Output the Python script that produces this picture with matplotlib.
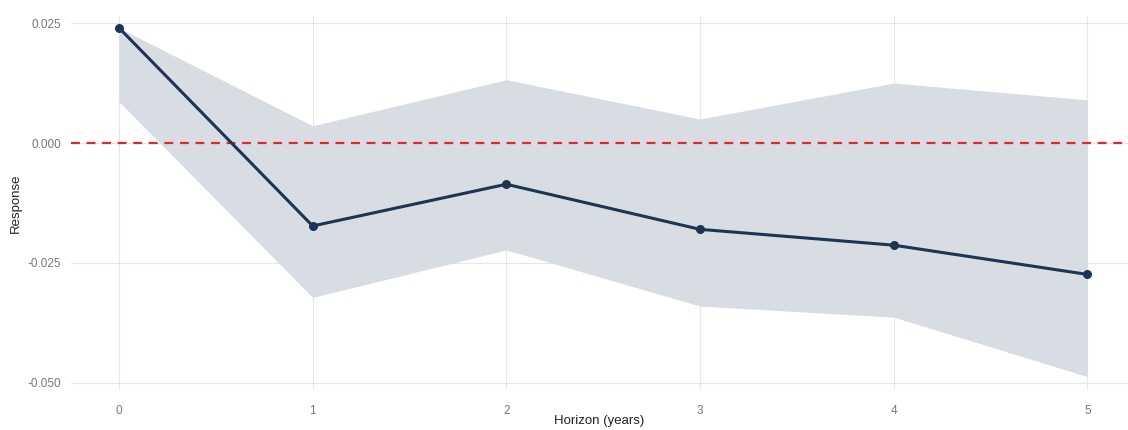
import matplotlib
matplotlib.use("Agg")
import matplotlib.pyplot as plt

horizon = [0, 1, 2, 3, 4, 5]
response = [0.0240, -0.0173, -0.0086, -0.0180, -0.0213, -0.0274]
upper = [0.0240, 0.0036, 0.0132, 0.0050, 0.0125, 0.0090]
lower = [0.0086, -0.0322, -0.0223, -0.0340, -0.0363, -0.0487]
yticks = [0.025, 0.000, -0.025, -0.050]
ytick_labels = ["0.025", "0.000", "-0.025", "-0.050"]

plt.rcParams['font.family'] = ['Liberation Sans', 'DejaVu Sans']
fig = plt.figure(figsize=(11.28, 4.30), dpi=100)
ax = fig.add_axes([0.0626, 0.093, 0.9374, 0.870])

ax.fill_between(horizon, lower, upper, color="#d8dde3", linewidth=0, zorder=1)
ax.axhline(0, color="#e3262a", linestyle=(0, (4, 3)), linewidth=1.6, zorder=2)
ax.plot(horizon, response, color="#1c3553", linewidth=2.2, zorder=3)
ax.scatter(horizon, response, color="#1c3553", s=30, zorder=4)

ax.set_xlim(-0.25, 5.21)
ax.set_ylim(-0.0515, 0.0265)
ax.set_xticks(horizon)
ax.set_xticklabels([str(h) for h in horizon])
ax.set_yticks(yticks)
ax.set_yticklabels(ytick_labels)
ax.grid(True, color="#e6e6e6", linewidth=0.8, zorder=0)
ax.set_axisbelow(True)
for s in ax.spines.values():
    s.set_visible(False)
ax.tick_params(axis="both", length=0, labelsize=8.5, labelcolor="#777777")
ax.tick_params(axis="x", pad=11)
ax.tick_params(axis="y", pad=7)
ax.set_xlabel("Horizon (years)", fontsize=9.5, color="#222222")
ax.xaxis.set_label_coords(0.5, -0.068)
ax.set_ylabel("Response", fontsize=9.5, color="#222222")
ax.yaxis.set_label_coords(-0.046, 0.5)

fig.savefig("out.png", dpi=100, facecolor="white")
